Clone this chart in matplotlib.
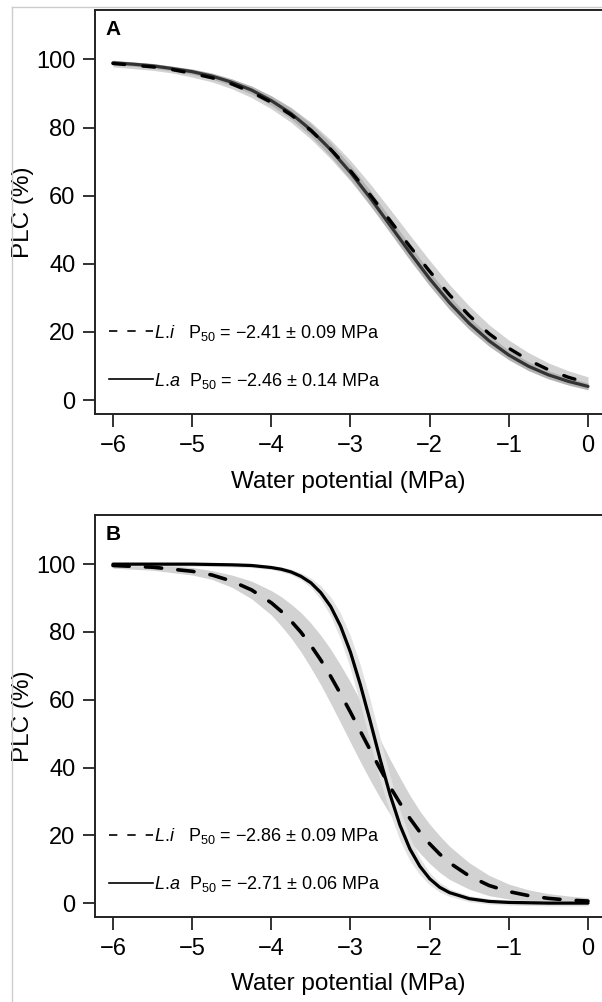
import numpy as np
import matplotlib
matplotlib.use("Agg")
import matplotlib.pyplot as plt
from matplotlib.lines import Line2D

plt.rcParams['font.family'] = ['Liberation Sans', 'DejaVu Sans']
plt.rcParams['mathtext.fontset'] = 'custom'
plt.rcParams['mathtext.rm'] = 'Liberation Sans'
plt.rcParams['mathtext.it'] = 'Liberation Sans:italic'
plt.rcParams['mathtext.bf'] = 'Liberation Sans:bold'

# panel A: water potential (MPa) and PLC (%)
wp_A = [-6, -5.75, -5.5, -5.25, -5, -4.75, -4.5, -4.25, -4, -3.75, -3.5, -3.25, -3,
        -2.75, -2.5, -2.25, -2, -1.75, -1.5, -1.25, -1, -0.75, -0.5, -0.25, 0]
plc_li_A = [98.8, 98.3, 97.8, 97.0, 95.9, 94.6, 92.8, 90.4, 87.4, 83.7, 79.1, 73.6, 67.3,
            60.2, 52.7, 45.1, 37.8, 30.9, 24.8, 19.5, 15.2, 11.7, 8.9, 6.7, 5.0]
plc_la_A = [99.0, 98.6, 98.1, 97.3, 96.4, 95.1, 93.3, 91.0, 87.9, 84.1, 79.3, 73.5, 66.8,
            59.3, 51.3, 43.3, 35.6, 28.6, 22.5, 17.4, 13.2, 9.9, 7.4, 5.5, 4.0]
# half width of the grey confidence bands
hw_li_A = [1.0, 1.0, 1.0, 1.0, 1.1, 1.2, 1.4, 1.6, 1.9, 2.2, 2.5, 2.8, 3.0,
           3.2, 3.3, 3.3, 3.2, 3.0, 2.8, 2.6, 2.4, 2.2, 2.0, 1.9, 1.8]
hw_la_A = [0.6, 0.6, 0.7, 0.7, 0.8, 0.9, 1.0, 1.2, 1.4, 1.6, 1.8, 2.0, 2.1,
           2.2, 2.2, 2.2, 2.1, 2.0, 1.8, 1.6, 1.4, 1.3, 1.2, 1.1, 1.0]

# panel B
wp_B = [-6, -5.5, -5, -4.75, -4.5, -4.25, -4, -3.875, -3.75, -3.625, -3.5, -3.375, -3.25,
        -3.125, -3, -2.875, -2.75, -2.625, -2.5, -2.375, -2.25, -2.125, -2, -1.875, -1.75,
        -1.5, -1.25, -1, -0.75, -0.5, -0.25, 0]
plc_li_B = [99.6, 99.1, 97.9, 96.8, 95.0, 92.4, 88.6, 86.1, 83.2, 79.9, 76.0, 71.7, 66.9,
            61.7, 56.3, 50.7, 45.1, 39.6, 34.3, 29.5, 25.0, 21.0, 17.5, 14.5, 11.9,
            8.0, 5.2, 3.4, 2.2, 1.4, 0.9, 0.6]
plc_la_B = [100.0, 100.0, 100.0, 99.9, 99.8, 99.6, 99.0, 98.5, 97.7, 96.4, 94.5, 91.6, 87.5,
            81.7, 74.0, 64.4, 53.6, 42.4, 32.0, 23.0, 16.0, 10.9, 7.2, 4.7, 3.1,
            1.3, 0.5, 0.2, 0.1, 0.0, 0.0, 0.0]
hw_li_B = [0.8, 0.9, 1.1, 1.3, 1.8, 2.6, 3.6, 4.3, 5.0, 5.8, 6.6, 7.3, 8.0,
           8.5, 8.9, 9.0, 8.9, 8.6, 8.1, 7.5, 6.8, 6.2, 5.8, 5.4, 4.9,
           3.9, 3.0, 2.2, 1.7, 1.4, 1.2, 1.0]
hw_la_B = [0.6, 0.6, 0.6, 0.6, 0.6, 0.6, 0.6, 0.7, 0.8, 1.0, 1.4, 2.0, 2.8,
           3.8, 4.8, 5.8, 6.3, 6.2, 5.5, 4.5, 3.4, 2.5, 1.8, 1.4, 1.1,
           0.9, 0.8, 0.8, 0.8, 0.8, 0.8, 0.8]

p50_A = ["\u22122.41 \u00b1 0.09", "\u22122.46 \u00b1 0.14"]
p50_B = ["\u22122.86 \u00b1 0.09", "\u22122.71 \u00b1 0.06"]

x_ticks = [-6, -5, -4, -3, -2, -1, 0]
y_ticks = [0, 20, 40, 60, 80, 100]


def draw_panel(ax, wp, li, la, hw_li, hw_la, p50, letter, band_la, la_color, lw_dash, dash):
    wp = np.array(wp)
    li = np.array(li)
    la = np.array(la)
    ax.fill_between(wp, li - np.array(hw_li), li + np.array(hw_li),
                    color='#d2d2d2', lw=0, zorder=1)
    ax.fill_between(wp, la - np.array(hw_la), la + np.array(hw_la),
                    color=band_la, lw=0, zorder=2)
    ax.plot(wp, la, color=la_color, lw=2.3, solid_capstyle='round', zorder=3)
    ax.plot(wp, li, color='black', lw=lw_dash, dashes=dash, dash_capstyle='round', zorder=4)

    ax.set_xlim(-6.227, 0.177)
    ax.set_ylim(-4.1, 114.5)
    ax.set_xticks(x_ticks)
    ax.set_yticks(y_ticks)
    ax.tick_params(labelsize=17, width=1.3, length=9, pad=6, color='#222222')
    ax.tick_params(axis='y', pad=5)
    for s in ['left', 'bottom', 'top']:
        ax.spines[s].set_linewidth(1.4)
        ax.spines[s].set_color('#222222')
    ax.spines['right'].set_visible(False)

    ax.set_xlabel("Water potential (MPa)", fontsize=17.5)
    ax.set_ylabel("PLC (%)", fontsize=17.5)
    ax.xaxis.set_label_coords(0.5, -0.14)
    ax.yaxis.set_label_coords(-0.12, 0.5)
    ax.text(0.02, 0.952, letter, transform=ax.transAxes, fontsize=15,
            fontweight='bold', va='center', ha='left')

    handles = [Line2D([], [], color='black', lw=1.2, dashes=(5, 6)),
               Line2D([], [], color='black', lw=1.2)]
    labels = [r"$\mathit{L}$.$\mathit{i}$   P$_{50}$ = " + p50[0] + " MPa",
              r"$\mathit{L}$.$\mathit{a}$  P$_{50}$ = " + p50[1] + " MPa"]
    ax.legend(handles, labels, loc='center left', bbox_to_anchor=(0.028, 0.142),
              frameon=False, fontsize=13, handlelength=2.4, handletextpad=0.1,
              labelspacing=1.55, borderpad=0, borderaxespad=0)


fig = plt.figure(figsize=(6.02, 10.02), dpi=100)
axA = fig.add_axes([95 / 602, 1 - 414 / 1002, 1 - 95 / 602, 404 / 1002])
axB = fig.add_axes([95 / 602, 1 - 917 / 1002, 1 - 95 / 602, 402 / 1002])

draw_panel(axA, wp_A, plc_li_A, plc_la_A, hw_li_A, hw_la_A, p50_A, "A",
           '#b4b4b4', '#333333', 2.4, (3.5, 5.5))
draw_panel(axB, wp_B, plc_li_B, plc_la_B, hw_li_B, hw_la_B, p50_B, "B",
           '#e2e2e2', 'black', 2.6, (4.5, 4.5))

# thin grey frame of the original page crop
fig.add_artist(Line2D([12 / 602, 12 / 602], [0, 1 - 7 / 1002], color='#cccccc', lw=1))
fig.add_artist(Line2D([12 / 602, 1], [1 - 7 / 1002, 1 - 7 / 1002], color='#cccccc', lw=1))

fig.savefig("out.png", dpi=100)
